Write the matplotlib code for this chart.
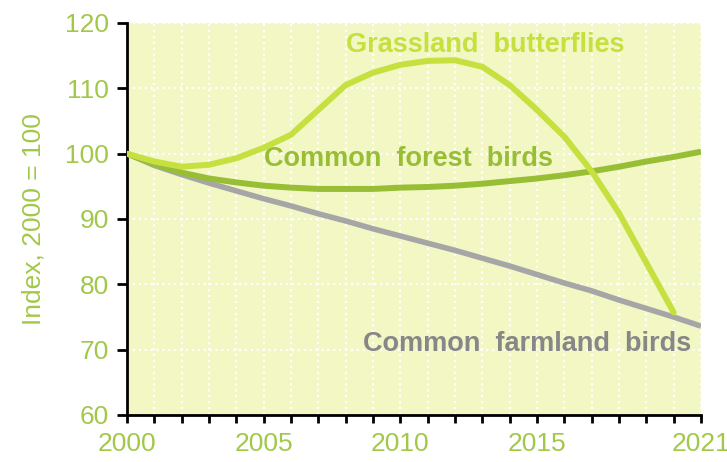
import matplotlib
matplotlib.use("Agg")
import matplotlib.pyplot as plt
from matplotlib.ticker import MultipleLocator, FixedLocator

years = list(range(2000, 2022))

grassland_years = list(range(2000, 2021))
grassland = [100, 98.8, 98.0, 98.3, 99.3, 100.9, 102.9, 106.7, 110.5, 112.4, 113.6,
             114.2, 114.3, 113.3, 110.5, 106.7, 102.6, 97.3, 90.9, 83.3, 75.7]
forest = [100, 98.4, 97.1, 96.2, 95.6, 95.1, 94.8, 94.6, 94.6, 94.6, 94.8,
          94.9, 95.1, 95.4, 95.8, 96.2, 96.7, 97.3, 98.0, 98.8, 99.5, 100.3]
farmland = [100, 98.2, 96.8, 95.5, 94.3, 93.1, 92.0, 90.8, 89.7, 88.5, 87.4,
            86.3, 85.2, 84.0, 82.8, 81.5, 80.2, 79.0, 77.6, 76.3, 75.0, 73.6]

year_labels = [2000, 2005, 2010, 2015, 2021]

BG = "#F2F7C4"
LIME = "#C5E03F"
FOREST = "#98BE36"
GREY = "#A6A6A6"
TICK_COL = "#A2C84A"

plt.rcParams["font.family"] = ["Liberation Sans", "DejaVu Sans"]

fig = plt.figure(figsize=(7.27, 4.62), dpi=100)
ax = fig.add_axes([127 / 727, 1 - 415 / 462, (701 - 127) / 727, (415 - 23) / 462])
ax.set_facecolor(BG)

ax.plot(years, farmland, color=GREY, lw=4.0, solid_capstyle="butt", zorder=3)
ax.plot(years, forest, color=FOREST, lw=4.3, solid_capstyle="butt", zorder=4)
ax.plot(grassland_years, grassland, color=LIME, lw=4.3, solid_capstyle="round", zorder=5)

ax.set_xlim(2000, 2021)
ax.set_ylim(60, 120)

ax.xaxis.set_major_locator(FixedLocator(year_labels))
ax.xaxis.set_minor_locator(MultipleLocator(1))
ax.yaxis.set_major_locator(MultipleLocator(10))

# white dotted grid: every year, every 10 index points
ax.grid(which="both", axis="x", color="white", ls=":", lw=1.6, zorder=1)
ax.grid(which="major", axis="y", color="white", ls=":", lw=1.6, zorder=1)
ax.set_axisbelow(True)

for s in ["top", "right"]:
    ax.spines[s].set_visible(False)
for s in ["left", "bottom"]:
    ax.spines[s].set_linewidth(2.0)
    ax.spines[s].set_color("black")

ax.tick_params(axis="both", which="both", direction="out", width=2.0, color="black")
ax.tick_params(axis="x", which="both", length=6, labelsize=19, labelcolor=TICK_COL, pad=6)
ax.tick_params(axis="y", which="major", length=7, labelsize=19, labelcolor=TICK_COL, pad=6)

ax.set_ylabel("Index, 2000 = 100", fontsize=19, color=TICK_COL, labelpad=14)

ax.text(2013.1, 116.6, "Grassland  butterflies", color=LIME, fontsize=19.5,
        fontweight="bold", ha="center", va="center")
ax.text(2010.3, 99.2, "Common  forest  birds", color=FOREST, fontsize=19.5,
        fontweight="bold", ha="center", va="center")
ax.text(2014.65, 70.8, "Common  farmland  birds", color="#878787", fontsize=19.5,
        fontweight="bold", ha="center", va="center")

fig.savefig("out.png", dpi=100)
